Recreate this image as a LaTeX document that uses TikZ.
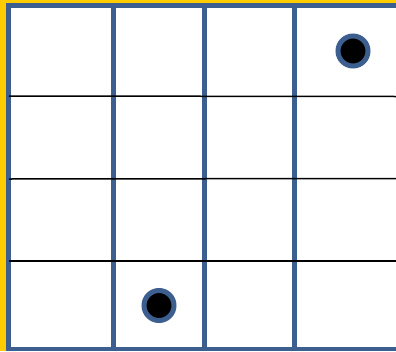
\documentclass[tikz,border=0pt]{standalone}
\definecolor{gridblue}{HTML}{3C5F8F}
\definecolor{frameyellow}{HTML}{FFCC00}
\begin{document}
\begin{tikzpicture}[x=1pt,y=-1pt,
  vline/.style={draw=gridblue,line width=5pt},
  hline/.style={draw=black,line width=1.5pt},
  token/.style={circle,fill=black,draw=gridblue,line width=5pt,minimum size=30pt,inner sep=0pt}]
\useasboundingbox (0,0) rectangle (396,351);
% yellow edges
\fill[frameyellow] (0,0) rectangle (396,3);
\fill[frameyellow] (0,0) rectangle (6,351);
% blue frame
\fill[gridblue] (6,3) rectangle (396,351);
\fill[white] (11,8) rectangle (396,347);
% vertical blue lines
\draw[vline] (113.5,6) -- (113.5,349);
\draw[vline] (204,6) -- (204,349);
\draw[vline] (294,6) -- (294,349);
% horizontal black lines
\draw[hline] (9,96) -- (396,96.5);
\draw[hline] (9,179) -- (396,178.5);
\draw[hline] (9,261) -- (396,261);
% tokens
\node[token] (t1) at (353,51) {};
\node[token] (t2) at (159,305.5) {};
\end{tikzpicture}
\end{document}
